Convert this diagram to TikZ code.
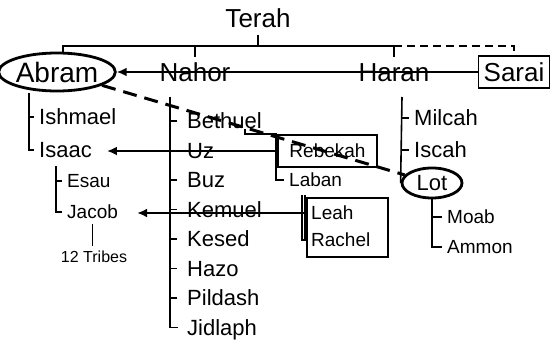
\documentclass[tikz,border=0pt]{standalone}
\usepackage{fontspec}
\setmainfont{Liberation Sans}
\usetikzlibrary{arrows.meta,positioning,shapes.geometric}

\begin{document}
\begin{tikzpicture}[x=1pt,y=-1pt,>={Latex[length=10pt,width=9pt]},node distance=29.5pt,
    elder/.style={inner sep=1pt, text height=18.6pt, text depth=0pt, font=\fontsize{26}{30}\selectfont},
    kid/.style={anchor=west, inner ysep=1pt, inner xsep=5pt, text height=15.8pt, text depth=0pt, font=\fontsize{22}{26}\selectfont},
    grandkid/.style={kid, text height=13.6pt, font=\fontsize{19}{23}\selectfont},
    ring/.style={draw, ellipse, line width=2.8pt, inner sep=0pt},
    boxed/.style={draw, line width=1.9pt, inner sep=0pt},
    bar/.style={line width=2pt},
    branch/.style={line width=1.6pt},
    wed/.style={->, line width=2pt},
    lover/.style={line width=3pt, dash pattern=on 14pt off 8pt}]

        \useasboundingbox (0,0) rectangle (551,343);

        \node[elder] (terah) at (258,18) {Terah};
        \node[elder, ring, minimum width=102pt, minimum height=38pt, text height=20pt, font=\fontsize{28}{32}\selectfont] (abram) at (57,72) {Abram};
        \node[elder] (nahor) at (195,72) {Nahor};
        \node[elder] (haran) at (394,72) {Haran};
        \node[elder, boxed, minimum width=71pt, minimum height=32pt] (sarai) at (514,72) {Sarai};

        \node[kid] (ishmael) at (34,117) {Ishmael};
        \node[below=33pt of ishmael.west, kid] (isaac) {Isaac};
        \node[grandkid] (esau) at (62,181) {Esau};
        \node[below=31pt of esau.west, grandkid] (jacob) {Jacob};
        \node[inner sep=1pt, text height=11.5pt, text depth=0pt, font=\fontsize{16}{19}\selectfont] (tribes) at (94,257) {12 Tribes};

        \node[kid] (bethuel) at (182,121) {Bethuel};
        \node[below=of bethuel.west, kid] (uz) {Uz};
        \node[below=of uz.west, kid] (buz) {Buz};
        \node[below=of buz.west, kid] (kemuel) {Kemuel};
        \node[below=of kemuel.west, kid] (kesed) {Kesed};
        \node[below=of kesed.west, kid] (hazo) {Hazo};
        \node[below=of hazo.west, kid] (pildash) {Pildash};
        \node[below=of pildash.west, kid] (jidlaph) {Jidlaph};

        \node[boxed, minimum width=99pt, minimum height=32pt, text height=13.6pt, text depth=0pt, font=\fontsize{19}{23}\selectfont] (rebekah) at (327.5,151) {Rebekah};
        \node[grandkid] (laban) at (284,180) {Laban};
        \node[boxed, minimum width=81pt, minimum height=59pt] (wives) at (347.5,227.5) {};
        \node[grandkid] (leah) at (306,213) {Leah};
        \node[below=27pt of leah.west, grandkid] (rachel) {Rachel};

        \node[kid] (milcah) at (409,118) {Milcah};
        \node[below=32pt of milcah.west, kid] (iscah) {Iscah};
        \node[kid, ring, anchor=center, minimum width=60pt, minimum height=30pt] (lot) at (432,183) {Lot};
        \node[grandkid] (moab) at (442,217) {Moab};
        \node[below=30pt of moab.west, grandkid] (ammon) {Ammon};

        \coordinate (bar) at (258,46);
        \draw[bar, shorten <=6pt] (terah.south) -- (bar);
        \draw[bar] ([xshift=6pt]abram.north) |- (haran.north |- bar);
        \draw[bar, shorten >=5pt] (nahor.north |- bar) -- (nahor.north);
        \draw[bar, shorten >=5pt] (haran.north |- bar) -- (haran.north);
        \draw[bar, dash pattern=on 8pt off 5pt] (haran.north |- bar) -| (sarai.north);

        \draw[wed] (sarai.west) -- (abram.east);
        \draw[wed, shorten >=10pt] (rebekah.west) -- (rebekah.west -| isaac.east);
        \coordinate (wk) at (302,195);
        \draw[wed, shorten >=14pt] (wk |- leah.west) -- (leah.west -| jacob.east);
        \draw[lover] (abram) -- (lot);

        \coordinate (ak) at (29,93);
        \draw[branch] (ak) |- (isaac.west);
        \draw[branch] (ak |- ishmael.west) -- (ishmael.west);

        \coordinate (ik) at (56,166);
        \draw[branch] (ik) |- (jacob.west);
        \draw[branch] (ik |- esau.west) -- (esau.west);
        \draw[branch, shorten <=4pt, shorten >=4pt] (jacob.south) -- (jacob.south |- tribes.north);

        \coordinate (nk) at (170,97);
        \draw[branch, shorten >=4pt] (nk) |- (jidlaph.west);
        \path[branch, shorten >=5pt] (nk |- bethuel.west) edge (bethuel.west)
        (nk |- uz.west) edge (uz.west)
        (nk |- buz.west) edge (buz.west)
        (nk |- kemuel.west) edge (kemuel.west)
        (nk |- kesed.west) edge (kesed.west)
        (nk |- hazo.west) edge (hazo.west)
        (nk |- pildash.west) edge (pildash.west);

        \coordinate (bk) at (245,129);
        \draw[branch] (bk) |- ([xshift=-1pt]rebekah.north west) |- (laban.west);

        \draw[branch] (wk) |- (rachel.west);
        \draw[branch] ([xshift=3pt]wk) -- ([xshift=3pt]wk |- rachel.west);
        \draw[branch] (wk |- leah.west) -- (leah.west);

        \coordinate (hk) at (402,97);
        \draw[branch] (hk) -- (lot.west);
        \path[branch] (hk |- milcah.west) edge (milcah.west)
        (hk |- iscah.west) edge (iscah.west);

        \draw[branch] (lot.south) |- (ammon.west);
        \draw[branch] (lot.south |- moab.west) -- (moab.west);

    \end{tikzpicture}
\end{document}
